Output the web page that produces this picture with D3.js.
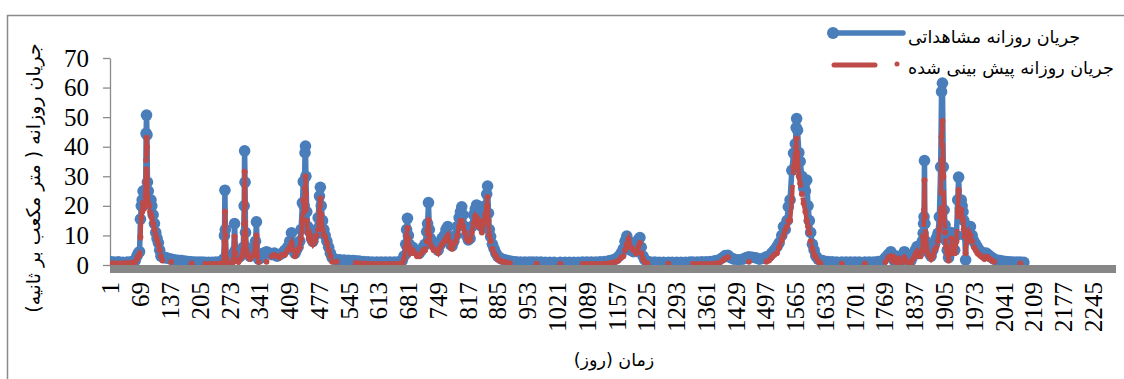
<!DOCTYPE html>
<html>
<head>
<meta charset="utf-8">
<script src="https://cdn.jsdelivr.net/npm/d3@7"></script>
<style>
  body { margin: 0; background: #fff; }
  svg { display: block; }
  .num { font-family: "Liberation Serif", "Times New Roman", serif; font-size: 25px; fill: #000; }
  .fa { font-family: "DejaVu Sans", sans-serif; fill: #000; }
</style>
</head>
<body>
<svg id="chart" width="1124" height="379"></svg>
<script>
// category axis: days 1..dayCount, a label every 68 days
const dayCount = 2298;
const xTickLabels = [1, 69, 137, 205, 273, 341, 409, 477, 545, 613, 681, 749, 817, 885, 953, 1021, 1089,
  1157, 1225, 1293, 1361, 1429, 1497, 1565, 1633, 1701, 1769, 1837, 1905, 1973, 2041, 2109, 2177, 2245];
const yTickLabels = [0, 10, 20, 30, 40, 50, 60, 70];

const seriesNames = ["جریان روزانه مشاهداتی", "جریان روزانه پیش بینی شده"];
const yTitle = "جریان روزانه ( متر مکعب بر ثانیه)";
const xTitle = "زمان (روز)";

// values (m3/s). predicted = null where it sits below 0 (hidden by the axis)
const days = [
  1, 10, 20, 30, 40, 50, 58,
  62, 65, 68, 70, 72, 74, 76, 78, 80, 82, 83, 84, 85, 86, 88, 90, 92, 94, 96, 99, 102, 105, 108, 111, 114, 117, 120, 124, 128,
  134, 140, 148, 156, 164, 172, 180, 187, 195, 203, 211, 218, 226, 234, 242, 250, 256,
  260, 262, 263, 264, 266, 270, 275, 280, 283, 285, 287, 290, 294, 298, 302, 305, 307, 308, 309, 310,
  312, 316, 320, 325, 330, 333, 335, 337, 340, 346, 352, 358, 364, 370, 376, 382, 388, 394, 400, 406,
  411, 415, 419, 423, 426, 430, 434, 437, 440, 442, 444, 446, 447, 448, 450, 452, 455, 458, 461, 464,
  468, 472, 476, 479, 481, 483, 486, 489, 492, 496, 500, 504, 508, 513, 518,
  525, 535, 545, 555, 562, 570, 580, 590, 600, 610, 620, 630, 640, 650, 660,
  668, 672, 676, 678, 680, 682, 684, 687, 692, 697, 702, 707, 712, 716, 720, 724, 726, 728, 730, 732,
  736, 740, 745, 750, 755, 759, 764, 768, 772, 775, 778, 782, 786, 790, 794, 798, 801, 804, 807, 811,
  815, 819, 823, 827, 831, 835, 838, 842, 846, 850, 854, 858, 861, 863, 865, 867, 870, 874, 878, 882,
  886, 890, 896, 902, 908, 914, 920,
  928, 938, 948, 958, 966, 975, 985, 995, 1005, 1015, 1029, 1040, 1050, 1060, 1070, 1080, 1090, 1100, 1110, 1120,
  1130, 1140, 1148,
  1155, 1162, 1168, 1173, 1177, 1181, 1185, 1190, 1196, 1202, 1207, 1211, 1214, 1218, 1222, 1228,
  1235, 1245, 1255, 1265, 1276, 1285, 1295, 1305, 1315, 1325, 1332, 1342, 1352, 1362, 1372, 1382, 1392, 1400, 1406, 1412,
  1418, 1426, 1436, 1446, 1454, 1460, 1468, 1476, 1484, 1492, 1500,
  1506, 1512, 1518, 1524, 1529, 1535, 1539, 1543, 1547, 1550, 1554, 1558, 1562, 1566, 1568, 1569, 1571, 1574, 1577, 1581,
  1585, 1589, 1592, 1595, 1598, 1601, 1605, 1609, 1613, 1618, 1623,
  1630, 1640, 1650, 1660, 1672, 1682, 1692, 1702, 1712, 1725, 1735, 1745, 1755,
  1765, 1772, 1778, 1784, 1788, 1792, 1797, 1802, 1806, 1810, 1815, 1820, 1825, 1830, 1835, 1840, 1844, 1848, 1852, 1856,
  1858, 1859, 1860, 1861, 1862, 1864, 1868, 1872, 1876, 1880, 1884, 1888, 1892, 1895, 1898, 1900, 1902, 1904, 1906, 1908,
  1910, 1913, 1916, 1919, 1922, 1925, 1930, 1934, 1937, 1939, 1941, 1943, 1945, 1947, 1949, 1951, 1953, 1955, 1957, 1960,
  1963, 1966, 1970, 1974, 1978, 1982, 1986, 1990, 1994, 1998, 2002, 2006, 2010, 2015, 2020, 2026, 2033, 2040, 2048, 2056,
  2064, 2072, 2080, 2088
];

const observed = [
  1.2, 1.0, 1.1, 0.9, 1.0, 1.2, 1.5,
  3.0, 4.0, 4.5, 15.5, 20.0, 22.0, 25.0, 20.5, 23.0, 25.5, 44.5, 50.7, 44.0, 28.0, 25.0, 22.0, 21.0, 22.0, 20.0, 17.0, 14.0, 11.0, 9.0, 7.5, 5.0, 3.0, 2.8, 2.5, 2.5,
  2.2, 2.0, 1.8, 1.6, 1.5, 1.3, 1.2, 1.1, 1.0, 1.0, 1.0, 0.9, 0.9, 0.9, 1.0, 1.0, 1.2,
  2.0, 10.0, 25.3, 12.0, 3.0, 2.0, 1.8, 2.0, 4.0, 14.0, 5.0, 3.0, 2.5, 3.0, 4.0, 6.0, 20.0, 38.6, 28.0, 11.0,
  6.0, 4.0, 3.0, 4.0, 5.0, 8.0, 14.6, 4.0, 2.0, 2.5, 4.0, 4.5, 4.0, 3.5, 4.0, 3.0, 3.5, 4.0, 5.0, 6.0,
  8.0, 10.9, 6.0, 4.0, 5.0, 6.0, 8.0, 12.0, 21.0, 28.2, 20.0, 38.0, 40.2, 30.0, 18.0, 13.0, 12.0, 11.0, 9.0, 8.0,
  10.0, 12.0, 16.0, 23.3, 26.3, 20.0, 15.0, 12.0, 10.0, 8.0, 6.0, 4.0, 2.5, 2.0, 1.8,
  1.8, 1.7, 1.6, 1.5, 1.4, 1.3, 1.2, 1.1, 1.0, 1.0, 1.0, 1.0, 1.0, 1.0, 1.1,
  1.5, 3.0, 7.0, 12.0, 15.8, 10.0, 7.0, 5.0, 6.0, 5.0, 4.5, 4.0, 5.0, 6.0, 7.0, 11.3, 14.0, 21.1, 12.0, 9.0,
  8.0, 7.0, 6.0, 5.0, 7.0, 9.0, 10.0, 12.0, 13.0, 9.0, 7.0, 6.5, 8.0, 10.0, 13.0, 16.0, 18.0, 19.7, 17.0, 13.0,
  10.0, 8.5, 9.0, 13.0, 17.0, 19.0, 20.3, 15.0, 19.7, 13.0, 16.0, 20.0, 24.0, 26.7, 17.5, 12.0, 9.6, 7.0, 5.5, 4.0,
  3.0, 2.5, 2.0, 1.8, 1.5, 1.3, 1.2,
  1.1, 1.0, 1.0, 1.0, 1.0, 1.0, 1.0, 0.9, 0.9, 0.9, 0.9, 0.9, 0.9, 0.9, 0.9, 1.0, 1.0, 1.0, 1.0, 1.1,
  1.2, 1.4, 1.7,
  2.0, 2.8, 4.0, 5.5, 8.0, 9.8, 8.0, 5.0, 4.5, 6.0, 8.5, 9.3, 6.0, 3.0, 1.8, 1.2,
  1.0, 1.0, 0.9, 0.9, 0.9, 0.9, 0.9, 0.9, 0.9, 1.0, 1.0, 1.0, 1.1, 1.1, 1.2, 1.4, 1.8, 2.5, 3.2, 3.3,
  2.5, 2.0, 1.8, 2.0, 2.5, 2.8, 2.6, 2.4, 2.0, 2.2, 2.8,
  3.0, 4.0, 5.0, 6.2, 7.5, 10.0, 13.0, 12.0, 15.0, 19.7, 22.0, 32.0, 37.8, 41.0, 46.5, 49.5, 45.6, 38.0, 35.0, 30.0,
  26.0, 25.0, 28.7, 20.0, 15.0, 11.0, 7.0, 5.0, 3.0, 2.0, 1.7,
  1.4, 1.2, 1.1, 1.0, 1.0, 1.0, 1.0, 1.0, 1.0, 1.0, 1.0, 1.0, 1.2,
  1.5, 2.5, 3.5, 4.5, 3.0, 1.5, 3.0, 2.0, 1.2, 3.0, 4.5, 3.5, 2.0, 1.5, 3.0, 5.0, 6.2, 4.0, 5.0, 8.0,
  10.7, 14.0, 16.3, 35.3, 14.0, 8.0, 6.0, 4.0, 3.0, 5.0, 7.0, 9.0, 10.7, 16.3, 33.2, 58.6, 61.5, 33.2, 18.6, 13.5,
  8.4, 5.0, 2.5, 8.0, 11.0, 6.0, 5.0, 10.0, 22.0, 29.7, 22.0, 19.2, 22.0, 20.0, 18.0, 15.0, 10.0, 1.7, 12.0, 13.0,
  11.0, 13.0, 10.0, 8.0, 7.0, 6.0, 5.0, 4.5, 4.0, 3.5, 4.0, 3.5, 3.0, 2.5, 2.0, 1.7, 1.5, 1.3, 1.2, 1.1,
  1.0, 1.0, 1.0, 0.9
];

const predicted = [
  0.5, 0.6, 0.5, 0.6, 0.7, 0.8, 1.0,
  2.0, 3.0, 3.5, 9.5, 16.0, 18.0, 21.0, 19.0, 20.0, 28.0, 35.5, 43.0, 40.0, 23.0, 21.0, 20.0, 18.0, 17.0, 16.0, 14.0, 12.0, 10.0, 8.5, 7.0, 5.0, 3.0, 1.5, null, null,
  null, 1.0, null, null, null, null, null, 0.5, null, null, null, 0.3, 0.3, 0.3, 0.3, 0.4, 0.5,
  1.0, 8.0, 18.0, 10.0, 2.0, 0.8, null, 0.6, 2.0, 9.6, 4.0, 1.5, 1.0, 2.0, 3.0, 5.0, 14.0, 31.5, 21.0, 10.8,
  5.0, 3.0, 2.0, 3.0, 4.0, 7.0, 10.0, 3.0, 1.0, null, null, 1.1, null, 3.0, 3.4, 3.0, 2.5, 3.5, 3.5, 5.0,
  6.0, 7.4, 5.0, 3.0, 4.0, 5.0, 6.0, 9.0, 15.0, 22.0, 18.0, 26.0, 29.9, 24.0, 15.0, 11.0, 9.0, 10.0, 8.0, 7.0,
  8.0, 10.0, 12.0, 18.0, 22.6, 17.0, 12.0, 10.0, 9.6, 7.4, 5.0, 3.0, 1.1, null, 1.1,
  null, null, null, null, 0.7, 0.6, 0.5, 0.4, 0.3, 0.3, 0.3, 0.3, 0.3, 0.3, 0.4,
  0.5, 2.0, 6.0, 10.0, 12.5, 9.0, 6.0, 4.0, 5.0, 4.0, 3.0, 3.0, 4.0, 5.0, 5.0, 8.0, 11.6, 15.2, 10.0, 7.0,
  6.0, 5.0, 5.0, 4.0, 6.0, 7.0, 8.0, 9.0, 10.0, 8.0, 6.0, 5.5, 7.0, 8.0, 10.0, 13.0, 14.9, 14.9, 13.0, 11.0,
  9.0, 8.0, 8.4, 11.0, 14.0, 16.6, 16.0, 13.0, 15.0, 11.0, 14.0, 17.0, 20.0, 23.0, 15.0, 10.0, 8.0, 5.5, 4.0, 3.0,
  2.0, 1.5, 1.2, 1.0, 0.8, 0.6, null,
  null, null, null, null, null, 0.4, null, null, null, null, 0.4, null, null, null, null, 0.3, 0.3, 0.3, 0.3, 0.3,
  0.4, 0.6, 0.8,
  1.0, 1.5, 2.5, 3.0, 5.0, 7.0, 8.7, 6.0, 5.0, 4.0, 6.0, 7.4, 4.0, 2.0, 1.0, 0.6,
  null, null, null, null, 0.4, null, null, null, null, null, 0.3, 0.3, 0.3, 0.3, 0.3, 0.4, 0.8, 1.5, 2.2, 2.6,
  null, null, null, null, null, 1.1, null, null, null, null, 1.1,
  1.5, 2.5, 3.5, 4.0, 6.0, 8.4, 10.0, 11.8, 13.0, 15.0, 15.0, 22.0, 33.0, 37.0, 40.0, 42.8, 38.0, 30.0, 27.6, 24.0,
  20.9, 18.0, 15.0, 13.0, 10.8, 8.0, 5.5, 3.5, 2.5, 1.2, 0.6,
  null, null, null, null, 0.4, null, null, null, null, 0.4, null, null, null,
  null, 1.0, 2.5, 3.0, 1.5, 2.5, 1.0, 2.0, 0.5, 1.5, 2.5, 1.0, 1.0, 0.5, 2.0, 3.5, 4.5, 3.0, 3.0, 5.0,
  9.6, 10.0, 18.6, 28.7, 16.3, 9.6, 4.0, 3.0, 2.0, 3.0, 5.0, 6.0, 8.0, 12.0, 18.0, 43.4, 48.7, 30.0, 18.0, 11.0,
  6.0, 4.0, 1.5, 6.0, 9.0, 4.0, 4.0, 8.0, 18.0, 25.4, 19.0, 17.0, 18.6, 16.0, 15.0, 12.0, 9.6, 4.0, 10.0, 11.0,
  9.0, 10.0, 8.0, 6.0, 5.0, 4.0, 3.5, 3.0, 2.5, 2.0, 2.8, 2.5, 2.0, 1.5, 1.1, null, null, null, null, null,
  null, null, 0.5, null
];

const blue = "#4a7ebb", red = "#be4b48", frameGray = "#8a8a8a", floorGray = "#878787";

var svg = d3.select("#chart"),
    margin = { top: 58, right: 8, bottom: 114, left: 110 },
    width = +svg.attr("width") - margin.left - margin.right,
    height = +svg.attr("height") - margin.top - margin.bottom;

var rows = days.map(function(d, i) {
    return { day: d, obs: observed[i], pred: predicted[i] };
});

var x = d3.scaleLinear().domain([0.5, dayCount + 0.5]).range([0, width]),
    y = d3.scaleLinear().domain([0, 70]).range([height, 0]);

// outer chart frame (left and top edges visible)
svg.append("path")
    .attr("d", "M7.5,379V15.5H1124")
    .attr("fill", "none")
    .attr("stroke", frameGray)
    .attr("stroke-width", 1.5);

var g = svg.append("g").attr("transform", "translate(" + margin.left + "," + margin.top + ")");

svg.append("defs").append("clipPath").attr("id", "clip")
    .append("rect").attr("x", 0).attr("y", -20).attr("width", width).attr("height", height + 20);

// y axis
var yAxis = g.append("g").call(d3.axisLeft(y).tickValues(yTickLabels).tickSize(7).tickSizeOuter(0).tickPadding(14));
yAxis.attr("font-family", null).attr("font-size", null);
yAxis.select(".domain").attr("stroke", frameGray).attr("stroke-width", 1.3);
yAxis.selectAll(".tick line").attr("stroke", frameGray).attr("stroke-width", 1.3);
yAxis.selectAll(".tick text").attr("class", "num");

// series
var plot = g.append("g").attr("clip-path", "url(#clip)");

var obsLine = d3.line()
    .x(function(d) { return x(d.day); })
    .y(function(d) { return y(d.obs); });

var predLine = d3.line()
    .defined(function(d) { return d.pred != null; })
    .x(function(d) { return x(d.day); })
    .y(function(d) { return y(d.pred); });

plot.append("path").datum(rows)
    .attr("d", obsLine)
    .attr("fill", "none")
    .attr("stroke", blue)
    .attr("stroke-width", 5.5)
    .attr("stroke-linejoin", "round");

plot.selectAll("circle.obs").data(rows).enter().append("circle")
    .attr("class", "obs")
    .attr("cx", function(d) { return x(d.day); })
    .attr("cy", function(d) { return y(d.obs); })
    .attr("r", 5.8)
    .attr("fill", blue);

plot.append("path").datum(rows)
    .attr("d", predLine)
    .attr("fill", "none")
    .attr("stroke", red)
    .attr("stroke-width", 4.5)
    .attr("stroke-dasharray", "38,10");

plot.selectAll("circle.pred").data(rows.filter(function(d) { return d.pred != null; })).enter().append("circle")
    .attr("class", "pred")
    .attr("cx", function(d) { return x(d.day); })
    .attr("cy", function(d) { return y(d.pred); })
    .attr("r", 3)
    .attr("fill", red);

// thick grey category axis (floor band)
g.append("rect")
    .attr("x", 0).attr("y", height)
    .attr("width", width).attr("height", 8)
    .attr("fill", floorGray);

// x axis labels, rotated
var xAxis = g.append("g")
    .attr("transform", "translate(0," + (height + 8) + ")")
    .call(d3.axisBottom(x).tickValues(xTickLabels).tickFormat(d3.format("d")).tickSize(0));
xAxis.attr("font-family", null).attr("font-size", null);
xAxis.select(".domain").remove();
xAxis.selectAll(".tick text")
    .attr("class", "num")
    .attr("transform", "rotate(-90)")
    .attr("x", -9).attr("y", 0).attr("dy", "0.35em")
    .attr("text-anchor", "end");

// axis titles
svg.append("text")
    .attr("class", "fa")
    .attr("transform", "translate(40,178) rotate(-90)")
    .attr("text-anchor", "middle")
    .attr("direction", "rtl")
    .style("font-size", "19px")
    .text(yTitle);

svg.append("text")
    .attr("class", "fa")
    .attr("x", 614).attr("y", 366)
    .attr("text-anchor", "middle")
    .attr("direction", "rtl")
    .style("font-size", "17.5px")
    .text(xTitle);

// legend
var legend = svg.append("g");
legend.append("line")
    .attr("x1", 833).attr("x2", 903).attr("y1", 33).attr("y2", 33)
    .attr("stroke", blue).attr("stroke-width", 5.5).attr("stroke-linecap", "round");
legend.append("circle").attr("cx", 833).attr("cy", 33).attr("r", 6).attr("fill", blue);
legend.append("line")
    .attr("x1", 834).attr("x2", 875).attr("y1", 65).attr("y2", 65)
    .attr("stroke", red).attr("stroke-width", 5).attr("stroke-linecap", "round");
legend.append("circle").attr("cx", 897).attr("cy", 64).attr("r", 2.5).attr("fill", red);

legend.selectAll("text.name").data(seriesNames).enter().append("text")
    .attr("class", "fa name")
    .attr("x", 908)
    .attr("y", function(d, i) { return 43 + i * 31; })
    .attr("direction", "rtl")
    .attr("text-anchor", "end")
    .style("font-size", "17.5px")
    .text(function(d) { return d; });
</script>
</body>
</html>
